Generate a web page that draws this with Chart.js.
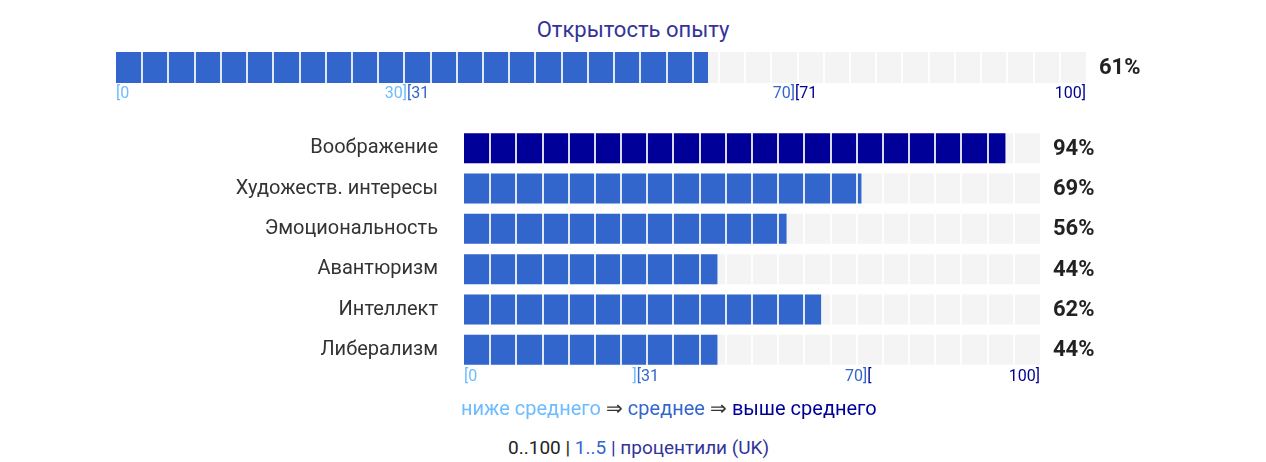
<!DOCTYPE html>
<html>
<head>
<meta charset="utf-8">
<script src="https://cdn.jsdelivr.net/npm/chart.js@4.4.0/dist/chart.umd.min.js"></script>
<style>
  body { margin: 0; background: #fff; font-family: Roboto, sans-serif; }
  #wrap { position: relative; width: 1266px; height: 462px; overflow: hidden; }
  canvas { position: absolute; left: 0; }
  .txt { position: absolute; white-space: nowrap; }
  #title { top: 17px; left: 0; width: 1266px; text-align: center; font-size: 22px; color: #333399; }
  #legend { top: 396px; left: 461px; font-size: 20px; color: #333; }
  #footer { top: 436px; left: 508px; font-size: 19px; color: #222; }
</style>
</head>
<body>
<div id="wrap">
  <div id="title" class="txt">Открытость опыту</div>
  <canvas id="mainChart" width="1266" height="110" style="top:0;width:1266px;height:110px"></canvas>
  <canvas id="facetChart" width="1266" height="300" style="top:110px;width:1266px;height:300px"></canvas>
  <div id="legend" class="txt"><span style="color:#6cbcff">ниже среднего</span> ⇒ <span style="color:#3366cc">среднее</span> ⇒ <span style="color:#000099">выше среднего</span></div>
  <div id="footer" class="txt">0..100 | <span style="color:#3366cc">1..5</span> <span style="color:#333399">| процентили (UK)</span></div>
</div>
<script>
// Domain score
const domainLabel = ['Открытость опыту'];
const domainValue = [61];

// Facet scores
const facetLabels = ['Воображение', 'Художеств. интересы', 'Эмоциональность', 'Авантюризм', 'Интеллект', 'Либерализм'];
const facetValues = [94, 69, 56, 44, 62, 44];

// Range boundary labels: [text, value, align, color]
const mainBounds = [
  ['[0', 0, 'left', '#6cbcff'],
  ['30]', 30, 'right', '#6cbcff'],
  ['[31', 30, 'left', '#3366cc'],
  ['70]', 70, 'right', '#3366cc'],
  ['[71', 70, 'left', '#000099'],
  ['100]', 100, 'right', '#000099']
];
const facetBounds = [
  ['[0', 0, 'left', '#6cbcff'],
  [']', 30, 'right', '#6cbcff'],
  ['[31', 30, 'left', '#3366cc'],
  ['70]', 70, 'right', '#3366cc'],
  ['[', 70, 'left', '#000099'],
  ['100]', 100, 'right', '#000099']
];

const LIGHT = '#6cbcff', MID = '#3366cc', DARK = '#000099', TRACK = '#f4f4f4';
const levelColor = (v) => v > 70 ? DARK : (v > 30 ? MID : LIGHT);

// Draws boundary labels under the bar and the percent value to the right
const labelsPlugin = {
  id: 'labelsPlugin',
  afterDraw(chart, args, opts) {
    const { ctx, chartArea } = chart;
    const xs = chart.scales.x;
    ctx.save();
    ctx.font = '16px Roboto';
    ctx.textBaseline = 'middle';
    opts.bounds.forEach(([text, value, align, color]) => {
      ctx.fillStyle = color;
      ctx.textAlign = align;
      ctx.fillText(text, xs.getPixelForValue(value), chartArea.bottom + opts.boundOffset);
    });
    const meta = chart.getDatasetMeta(0);
    ctx.font = 'bold 22px Roboto';
    ctx.fillStyle = '#222';
    ctx.textAlign = 'left';
    meta.data.forEach((bar, i) => {
      ctx.fillText(chart.data.datasets[0].data[i] + '%', chartArea.right + 13, bar.y + 1);
    });
    ctx.restore();
  }
};

// white separators at fixed spacing
const segmentTicks = (n) => (scale) => {
  const t = [];
  for (let k = 1; k < n; k++) t.push({ value: k * 100 / n });
  scale.ticks = t;
};

const xScale = (segments) => ({
  min: 0,
  max: 100,
  afterBuildTicks: segmentTicks(segments),
  afterFit: (s) => { s.height = 0; },
  ticks: { display: false },
  border: { display: false },
  grid: { z: 1, color: 'rgba(255,255,255,0.85)', lineWidth: 2, drawTicks: false }
});

new Chart(document.getElementById('mainChart'), {
  type: 'bar',
  data: {
    labels: domainLabel,
    datasets: [
      { data: domainValue, backgroundColor: domainValue.map(levelColor), grouped: false, order: 0, barPercentage: 1, categoryPercentage: 1 },
      { data: domainValue.map(() => 100), backgroundColor: TRACK, grouped: false, order: 1, barPercentage: 1, categoryPercentage: 1 }
    ]
  },
  options: {
    indexAxis: 'y',
    responsive: false,
    animation: false,
    layout: { padding: { left: 116, right: 180, top: 52, bottom: 27 } },
    scales: {
      x: xScale(37),
      y: { display: false }
    },
    plugins: {
      legend: { display: false },
      tooltip: { enabled: false },
      labelsPlugin: { bounds: mainBounds, boundOffset: 11 }
    }
  },
  plugins: [labelsPlugin]
});

new Chart(document.getElementById('facetChart'), {
  type: 'bar',
  data: {
    labels: facetLabels,
    datasets: [
      { data: facetValues, backgroundColor: facetValues.map(levelColor), grouped: false, order: 0, barPercentage: 0.745, categoryPercentage: 1 },
      { data: facetValues.map(() => 100), backgroundColor: TRACK, grouped: false, order: 1, barPercentage: 0.745, categoryPercentage: 1 }
    ]
  },
  options: {
    indexAxis: 'y',
    responsive: false,
    animation: false,
    layout: { padding: { left: 0, right: 226, top: 18, bottom: 40 } },
    scales: {
      x: xScale(22),
      y: {
        afterFit: (s) => { s.width = 464; },
        border: { display: false },
        grid: { display: false, drawTicks: true, tickLength: 26 },
        ticks: { color: '#333', font: { family: 'Roboto', size: 20 }, padding: 0 }
      }
    },
    plugins: {
      legend: { display: false },
      tooltip: { enabled: false },
      labelsPlugin: { bounds: facetBounds, boundOffset: 7 }
    }
  },
  plugins: [labelsPlugin]
});
</script>
</body>
</html>
